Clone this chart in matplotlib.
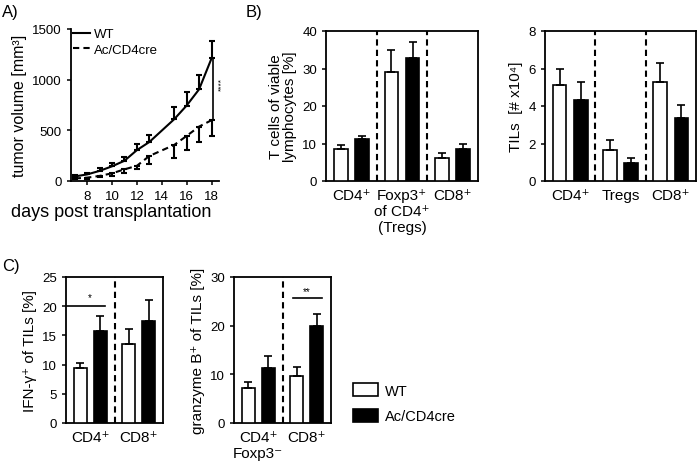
import numpy as np
import matplotlib
matplotlib.use('Agg')
import matplotlib.pyplot as plt
from matplotlib.patches import Patch
from matplotlib.lines import Line2D

plt.rcParams['font.family'] = ['Liberation Sans', 'DejaVu Sans']

# ---- data ----
# A) tumor growth
days = [7, 8, 9, 10, 11, 12, 13, 15, 16, 17, 18]
wt_vol = [45, 65, 100, 145, 200, 305, 385, 610, 745, 905, 1210]
wt_err = [10, 17, 25, 36, 40, 58, 67, 125, 129, 143, 175]
ko_vol = [25, 33, 50, 76, 115, 150, 247, 356, 445, 537, 600]
ko_err = [8, 10, 12, 25, 40, 35, 75, 125, 140, 150, 155]

# B) left: T cells of viable lymphocytes
b1_groups = ['CD4\u207a', 'Foxp3\u207a\nof CD4\u207a\n(Tregs)', 'CD8\u207a']
b1_wt = [8.6, 29.2, 6.1]
b1_wt_err = [1.0, 5.8, 1.3]
b1_ko = [11.3, 32.8, 8.6]
b1_ko_err = [0.8, 4.2, 1.4]

# B) right: TILs
b2_groups = ['CD4\u207a', 'Tregs', 'CD8\u207a']
b2_wt = [5.1, 1.66, 5.27]
b2_wt_err = [0.86, 0.55, 1.0]
b2_ko = [4.3, 0.95, 3.37]
b2_ko_err = [1.0, 0.26, 0.68]

# C) left: IFN-g
c1_groups = ['CD4\u207a', 'CD8\u207a']
c1_wt = [9.4, 13.6]
c1_wt_err = [0.9, 2.5]
c1_ko = [15.7, 17.5]
c1_ko_err = [2.6, 3.5]

# C) right: granzyme B
c2_groups = ['CD4\u207a\nFoxp3\u207b', 'CD8\u207a']
c2_wt = [7.1, 9.6]
c2_wt_err = [1.4, 1.9]
c2_ko = [11.2, 19.9]
c2_ko_err = [2.5, 2.5]

W, H = 697, 464
fig = plt.figure(figsize=(W / 100, H / 100), dpi=100)


def px_axes(left, top, right, bottom):
    return fig.add_axes([left / W, 1 - bottom / H, (right - left) / W, (bottom - top) / H])


def style(ax, box=True):
    for s in ax.spines.values():
        s.set_linewidth(1.3)
    if not box:
        ax.spines['top'].set_visible(False)
        ax.spines['right'].set_visible(False)
    ax.tick_params(direction='out', length=3, width=1.1, labelsize=9.5)


def bar_panel(ax, groups, wt, wt_err, ko, ko_err, ymax, yticks, ylabel):
    x = np.arange(len(groups))
    off, w = 0.21, 0.27
    ax.bar(x - off, wt, w, color='white', edgecolor='black', linewidth=1.2, zorder=3)
    ax.bar(x + off, ko, w, color='black', edgecolor='black', linewidth=1.2, zorder=3)
    ax.errorbar(x - off, wt, yerr=[np.zeros(len(wt)), wt_err], fmt='none',
                ecolor='black', elinewidth=1.2, capsize=3, capthick=1.2, zorder=4)
    ax.errorbar(x + off, ko, yerr=[np.zeros(len(ko)), ko_err], fmt='none',
                ecolor='black', elinewidth=1.2, capsize=3, capthick=1.2, zorder=4)
    for sep in np.arange(len(groups) - 1) + 0.5:
        ax.axvline(sep, color='black', linestyle=(0, (3, 2)), linewidth=1.5)
    ax.set_xlim(-0.5, len(groups) - 0.5)
    ax.set_ylim(0, ymax)
    ax.set_yticks(yticks)
    ax.set_xticks(x)
    style(ax)
    ax.set_xticklabels(groups, fontsize=11, linespacing=1.2, va='top')
    ax.tick_params(axis='x', length=0, pad=5)
    ax.set_ylabel(ylabel, fontsize=11, linespacing=1.0)


# ---- A ----
axA = px_axes(71, 30, 219, 182)
axA.errorbar(days, wt_vol, yerr=[np.zeros(len(wt_err)), wt_err], color='black',
             linewidth=1.5, elinewidth=1.5, capsize=2.5, capthick=1.5)
axA.errorbar(days, ko_vol, yerr=[ko_err, np.zeros(len(ko_err))], color='black',
             linestyle=(0, (3, 2)), linewidth=1.5, elinewidth=1.5, capsize=2.5,
             capthick=1.5)
axA.plot([18.15, 18.15], [wt_vol[-1], ko_vol[-1]], color='black', linewidth=1.2,
         clip_on=False)
axA.text(18.8, (wt_vol[-1] + ko_vol[-1]) / 2 + 60, '****', rotation=90, ha='center',
         va='center', fontsize=6)
axA.set_xlim(6.7, 18.6)
axA.set_ylim(0, 1500)
axA.set_xticks([8, 10, 12, 14, 16, 18])
axA.set_yticks([0, 500, 1000, 1500])
style(axA, box=False)
axA.set_xlabel('days post transplantation', fontsize=13)
axA.xaxis.set_label_coords(0.27, -0.145)
axA.set_ylabel('tumor volume [mm\u00b3]', fontsize=11.5)
axA.legend(handles=[Line2D([], [], color='black', lw=1.5),
                    Line2D([], [], color='black', lw=1.5, ls=(0, (3, 2)))],
           labels=['WT', 'Ac/CD4cre'], loc='upper left', frameon=False,
           fontsize=9.5, handlelength=1.3, borderaxespad=0.0,
           labelspacing=0.25, handletextpad=0.3, bbox_to_anchor=(-0.02, 1.04))

# ---- B ----
axB1 = px_axes(326, 32, 478, 182)
bar_panel(axB1, b1_groups, b1_wt, b1_wt_err, b1_ko, b1_ko_err, 40, [0, 10, 20, 30, 40],
          'T cells of viable\nlymphocytes [%]')
axB2 = px_axes(545, 32, 696, 182)
bar_panel(axB2, b2_groups, b2_wt, b2_wt_err, b2_ko, b2_ko_err, 8, [0, 2, 4, 6, 8],
          'TILs  [# x10\u2074]')

# ---- C ----
axC1 = px_axes(66, 278, 163, 424)
bar_panel(axC1, c1_groups, c1_wt, c1_wt_err, c1_ko, c1_ko_err, 25, [0, 5, 10, 15, 20, 25],
          'IFN-\u03b3\u207a of TILs [%]')
axC1.plot([-0.48, 0.3], [20, 20], color='black', linewidth=1.2)
axC1.text(-0.02, 21.6, '*', ha='center', va='center', fontsize=7)

axC2 = px_axes(234, 278, 331, 424)
bar_panel(axC2, c2_groups, c2_wt, c2_wt_err, c2_ko, c2_ko_err, 30, [0, 10, 20, 30],
          'granzyme B\u207a of TILs [%]')
axC2.plot([0.72, 1.32], [25.6, 25.6], color='black', linewidth=1.2)
axC2.text(1.0, 27.2, '**', ha='center', va='center', fontsize=7)

fig.legend(handles=[Patch(facecolor='white', edgecolor='black', linewidth=1.2),
                    Patch(facecolor='black', edgecolor='black', linewidth=1.2)],
           labels=['WT', 'Ac/CD4cre'], loc='upper left', frameon=False,
           bbox_to_anchor=(340 / W, 1 - 371 / H), fontsize=10.5,
           handlelength=1.7, handleheight=1.0, labelspacing=0.75, handletextpad=0.5)

# panel letters
fig.text(2 / W, 1 - 13 / H, 'A)', fontsize=12, va='center')
fig.text(246 / W, 1 - 13 / H, 'B)', fontsize=12, va='center')
fig.text(2 / W, 1 - 266 / H, 'C)', fontsize=12, va='center')

fig.savefig('out.png', dpi=100)
